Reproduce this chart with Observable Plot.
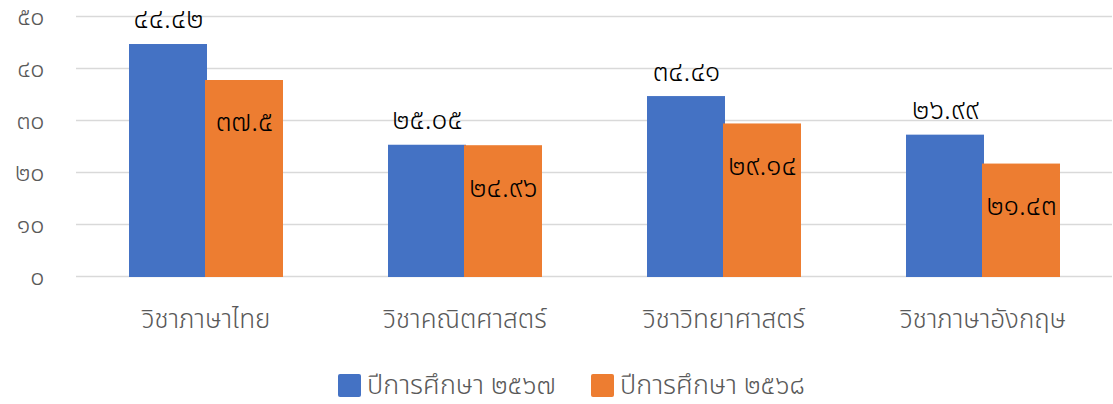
<!DOCTYPE html>
<html><head><meta charset="utf-8">
<script src="https://cdn.jsdelivr.net/npm/d3@7"></script>
<script src="https://cdn.jsdelivr.net/npm/@observablehq/plot@0.6"></script>
<style>
body{margin:0;background:#fff;font-family:"Noto Sans Thai",sans-serif;font-weight:300;}
#chart svg{display:block;}
#legend{display:flex;align-items:center;padding-left:338px;margin-top:20px;height:30px;color:#595959;font-size:27px;}
.item{display:flex;align-items:center;width:253px;}
.sw{width:23px;height:23px;border-radius:2px;margin-right:6px;flex:none;}
</style></head><body><div id="chart"></div><div id="legend"></div>
<script>
const subjects = ["วิชาภาษาไทย","วิชาคณิตศาสตร์","วิชาวิทยาศาสตร์","วิชาภาษาอังกฤษ"];
const years = ["ปีการศึกษา ๒๕๖๗","ปีการศึกษา ๒๕๖๘"];
const values2567 = [44.42,25.05,34.41,26.99];
const values2568 = [37.5,24.96,29.14,21.43];
const yTicks = [0,10,20,30,40,50];
const colors = ["#4472C4","#ED7D31"];
const thaiDigits = ["๐","๑","๒","๓","๔","๕","๖","๗","๘","๙"];
const toThai = s => String(s).replace(/[0-9]/g, d => thaiDigits[+d]);

const data = [];
subjects.forEach((s,i)=>{
  data.push({subject:s, year:years[0], value:values2567[i]});
  data.push({subject:s, year:years[1], value:values2568[i]});
});
const font = '"Noto Sans Thai",sans-serif';

const plot = Plot.plot({
  width:1113, height:350, marginTop:16, marginBottom:74, marginLeft:74, marginRight:0,
  style:{fontFamily:font, fontWeight:300, background:"white", overflow:"visible"},
  fx:{domain:subjects, padding:0, label:null},
  x:{domain:years, paddingInner:0, paddingOuter:0.7, axis:null},
  y:{domain:[0,50], axis:null},
  color:{domain:years, range:colors},
  marks:[
    Plot.ruleY(yTicks, {stroke:"#d9d9d9", strokeWidth:1.5}),
    Plot.barY(data, {fx:"subject", x:"year", y:"value", fill:"year", stroke:"year", strokeWidth:2}),
    Plot.text(data.filter(d=>d.year===years[0]), {fx:"subject", x:"year", y:"value", text:d=>toThai(d.value), dy:-26, fontSize:28, fontWeight:300, fill:"black"}),
    Plot.text(data.filter(d=>d.year===years[1]), {fx:"subject", x:"year", y:"value", text:d=>toThai(d.value), dy:41, fontSize:28, fontWeight:300, fill:"black"}),
    Plot.axisFx({anchor:"bottom", tickSize:0, tickPadding:33, fontSize:26, fontWeight:300, color:"#595959", label:null}),
    Plot.axisY(yTicks, {anchor:"left", tickSize:0, tickPadding:32, tickFormat:toThai, fontSize:25, fontWeight:300, color:"#595959", label:null})
  ]
});
document.getElementById("chart").appendChild(plot);

const legend = document.getElementById("legend");
years.forEach((y,i)=>{
  const it = document.createElement("div"); it.className="item";
  const sw = document.createElement("div"); sw.className="sw"; sw.style.background=colors[i];
  const t = document.createElement("span"); t.textContent=y;
  it.appendChild(sw); it.appendChild(t); legend.appendChild(it);
});
</script></body></html>
